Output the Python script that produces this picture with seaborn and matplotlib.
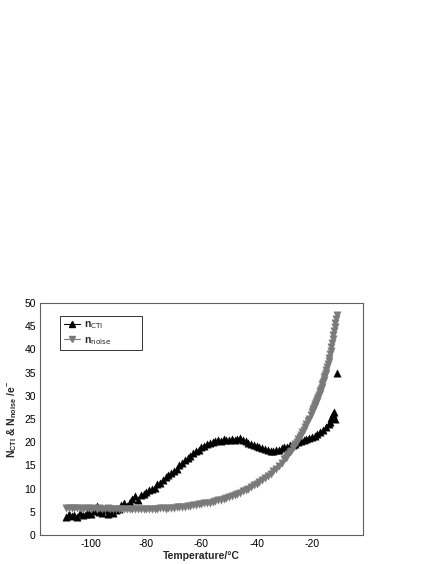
import numpy as np
import pandas as pd
import matplotlib
matplotlib.use("Agg")
import matplotlib.pyplot as plt
from matplotlib.lines import Line2D
from matplotlib.ticker import MultipleLocator
import seaborn as sns

# ---- data ----
cti_temperature = list(range(-109, -13)) + [-13.5, -13, -12.5, -12, -11.7, -11]
n_cti = [3.8, 4.6, 4.0, 4.4, 3.9, 4.8, 4.3, 4.6, 5.0, 4.6,
         5.1, 6.2, 5.0, 4.7, 5.3, 4.6, 5.2, 4.8, 5.4, 5.6,
         6.4, 6.8, 6.3, 7.2, 7.8, 8.3, 7.6, 8.6, 8.9, 9.3,
         9.6, 10.0, 10.2, 10.9, 11.3, 11.8, 12.4, 12.9, 13.3, 13.8,
         14.3, 15.0, 15.6, 16.2, 16.6, 17.0, 17.6, 18.0, 18.4, 18.9,
         19.2, 19.6, 19.8, 20.0, 20.2, 20.4, 20.3, 20.6, 20.5, 20.4,
         20.7, 20.5, 20.6, 20.8, 20.4, 20.2, 19.9, 19.7, 19.5, 19.2,
         19.0, 18.7, 18.5, 18.3, 18.2, 18.1, 18.3, 18.4, 18.7, 18.9,
         19.0, 19.3, 19.5, 19.7, 20.0, 20.2, 20.4, 20.6, 20.9, 21.2,
         21.4, 21.8, 22.3, 22.6, 23.3, 23.9,
         24.4, 25.2, 26.0, 26.6, 25.0, 35.0]

noise_temperature = (list(range(-109, -30))
                     + list(np.arange(-30.0, -20.0, 0.5))
                     + list(np.arange(-20.0, -10.9, 0.25)))
n_noise = [5.9, 5.8, 5.8, 5.9, 5.8, 5.8, 5.7, 5.8, 5.8, 5.7,
           5.8, 5.7, 5.8, 5.7, 5.7, 5.8, 5.7, 5.7, 5.6, 5.7,
           5.7, 5.6, 5.7, 5.6, 5.6, 5.7, 5.6, 5.6, 5.7, 5.6,
           5.7, 5.7, 5.6, 5.7, 5.8, 5.8, 5.7, 5.8, 5.9, 5.9,
           6.0, 6.0, 6.1, 6.1, 6.2, 6.3, 6.4, 6.5, 6.6, 6.7,
           6.8, 6.9, 7.0, 7.2, 7.3, 7.5, 7.6, 7.8, 8.0, 8.2,
           8.4, 8.6, 8.9, 9.1, 9.4, 9.7, 10.0, 10.3, 10.7, 11.0,
           11.4, 11.8, 12.2, 12.7, 13.2, 13.7, 14.3, 14.9, 15.6,
           # -30 ... -20.5 (0.5 steps)
           16.3, 16.6, 17.0, 17.4, 17.8, 18.2, 18.7, 19.1, 19.6, 20.1,
           20.6, 21.1, 21.6, 22.1, 22.7, 23.3, 23.9, 24.5, 25.1, 25.8,
           # -20 ... -11 (0.25 steps)
           26.5, 26.85, 27.2, 27.55, 27.9, 28.25, 28.6, 28.95, 29.3, 29.7,
           30.1, 30.55, 31.0, 31.5, 32.0, 32.5, 33.0, 33.5, 34.0, 34.5,
           35.0, 35.6, 36.2, 36.8, 37.5, 38.2, 39.0, 39.7, 40.5, 41.3,
           42.2, 43.1, 44.0, 44.8, 45.7, 46.6, 47.5]

series_labels = [r"n$_{\mathrm{CTI}}$", r"n$_{\mathrm{noise}}$"]
x_ticks = [-100, -80, -60, -40, -20]
y_ticks = [0, 5, 10, 15, 20, 25, 30, 35, 40, 45, 50]

df_cti = pd.DataFrame({"T": cti_temperature, "v": n_cti})
df_noise = pd.DataFrame({"T": noise_temperature, "v": n_noise})

# ---- style ----
sns.set_style("white")
plt.rcParams["font.family"] = ["Liberation Sans", "DejaVu Sans"]
plt.rcParams["mathtext.default"] = "regular"
plt.rcParams["axes.unicode_minus"] = False

CTI_COLOR = "#000000"
NOISE_COLOR = "#7a7a7a"
FRAME = "#606060"

fig = plt.figure(figsize=(4.36, 5.64), dpi=100)
ax = fig.add_axes([0.0917, 0.0514, 0.7409, 0.4114])

sns.scatterplot(data=df_cti, x="T", y="v", ax=ax, marker="^", s=28,
                color=CTI_COLOR, edgecolor=CTI_COLOR, linewidth=0.3, legend=False)
sns.scatterplot(data=df_noise, x="T", y="v", ax=ax, marker="v", s=28,
                color=NOISE_COLOR, edgecolor=NOISE_COLOR, linewidth=0.3, legend=False)

ax.set_xlim(-118.5, -1.5)
ax.set_ylim(0, 50)
ax.set_xticks(x_ticks)
ax.set_yticks(y_ticks)
ax.xaxis.set_minor_locator(MultipleLocator(5))
ax.yaxis.set_minor_locator(MultipleLocator(1))
ax.tick_params(axis="both", which="both", direction="in", colors=FRAME,
               labelcolor="black", labelsize=7.5, width=0.7)
ax.tick_params(axis="both", which="major", length=5, pad=3)
ax.tick_params(axis="both", which="minor", length=2.5)
ax.tick_params(top=False, right=False)

for sp in ax.spines.values():
    sp.set_color(FRAME)
    sp.set_linewidth(0.8)

ax.set_xlabel("Temperature/°C", fontsize=7.5, fontweight="bold", labelpad=1)
ax.set_ylabel(r"N$_{CTI}$ & N$_{noise}$ /e$^{-}$", fontsize=7.5,
              fontweight="bold", labelpad=4)

handles = [
    Line2D([0], [0], color=CTI_COLOR, marker="^", markersize=5, linewidth=0.8),
    Line2D([0], [0], color=NOISE_COLOR, marker="v", markersize=5, linewidth=0.8),
]
leg = ax.legend(handles, series_labels, loc="upper left",
                bbox_to_anchor=(0.062, 0.81, 0.254, 0.135), mode="expand",
                fontsize=7.5, frameon=True,
                fancybox=False, handlelength=1.6, handletextpad=0.4,
                borderpad=0.35, labelspacing=0.35, borderaxespad=0)
leg.get_frame().set_edgecolor("black")
leg.get_frame().set_linewidth(0.7)
leg.get_frame().set_boxstyle("square", pad=0)
for t in leg.get_texts():
    t.set_fontweight("bold")

fig.savefig("out.png", dpi=100)
